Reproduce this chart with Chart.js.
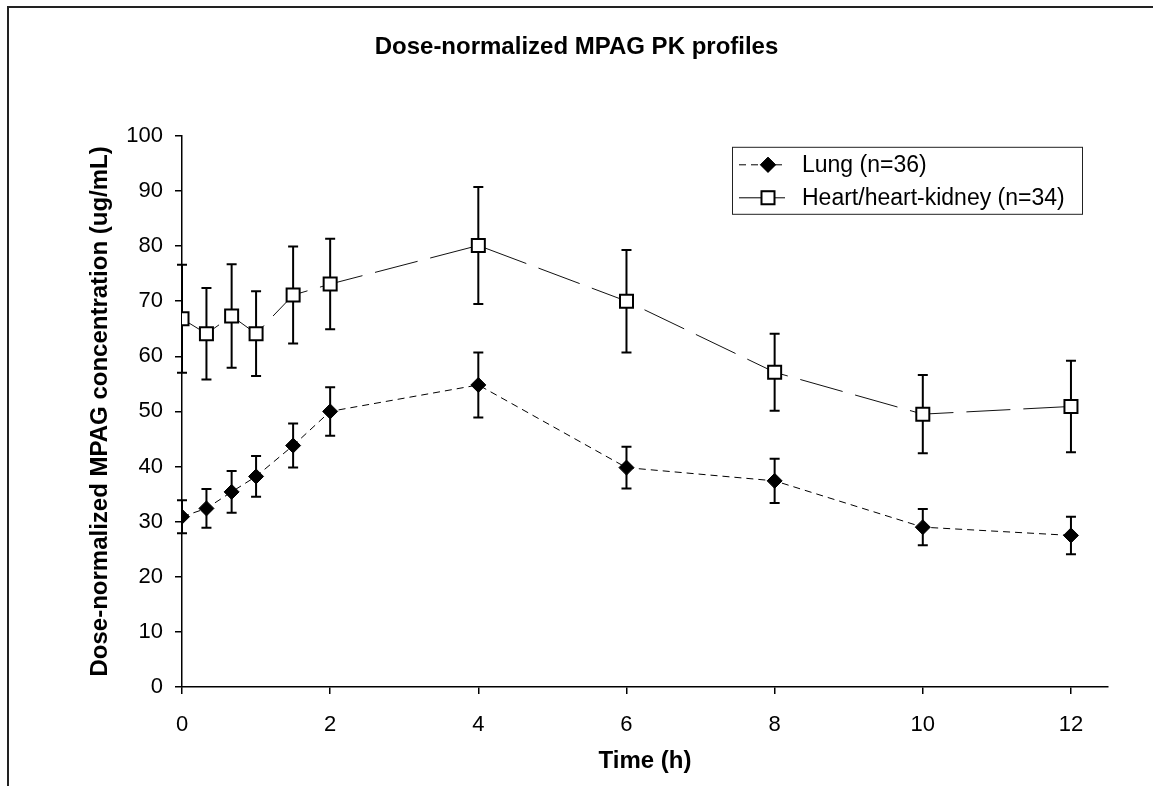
<!DOCTYPE html>
<html>
<head>
<meta charset="utf-8">
<script src="https://cdn.jsdelivr.net/npm/chart.js@4.4.1/dist/chart.umd.min.js"></script>
<style>
    html, body { margin: 0; padding: 0; background: #fff; }
    #wrap { position: relative; width: 1153px; height: 786px; overflow: hidden; }
    #frame { position: absolute; left: 7px; top: 6px; right: -10px; bottom: -10px; border-left: 2px solid #222; border-top: 2px solid #222; }
    canvas { position: absolute; left: 0; top: 0; }
</style>
</head>
<body>
<div id="wrap">
    <div id="frame"></div>
    <canvas id="pk" width="1153" height="786"></canvas>
</div>
<script>
const times = [0, 0.33, 0.67, 1, 1.5, 2, 4, 6, 8, 10, 12];
const xTicks = [0, 2, 4, 6, 8, 10, 12];

const lungMean = [30.9, 32.4, 35.4, 38.2, 43.8, 50.0, 54.8, 39.8, 37.4, 29.0, 27.5];
const lungSd = [3.0, 3.5, 3.8, 3.7, 4.0, 4.4, 5.9, 3.8, 4.0, 3.3, 3.4];

const heartMean = [66.8, 64.1, 67.3, 64.1, 71.1, 73.1, 80.1, 70.0, 57.1, 49.5, 50.9];
const heartSd = [9.8, 8.3, 9.4, 7.7, 8.8, 8.2, 10.6, 9.3, 7.0, 7.1, 8.3];

const labels = ['Lung (n=36)', 'Heart/heart-kidney (n=34)'];
const errors = [lungSd, heartSd];

Chart.defaults.font.family = '"Liberation Sans", Arial, sans-serif';
Chart.defaults.color = '#000';

const toXY = (ys) => times.map((t, i) => ({ x: t, y: ys[i] }));

// error bars (mean ± SD), drawn under the markers
const errorBars = {
    id: 'errorBars',
    beforeDatasetsDraw(chart) {
        const { ctx, scales: { x, y } } = chart;
        ctx.save();
        ctx.strokeStyle = '#000';
        ctx.lineWidth = 2;
        chart.data.datasets.forEach((ds, di) => {
            ds.data.forEach((p, i) => {
                const px = x.getPixelForValue(p.x);
                const top = y.getPixelForValue(p.y + errors[di][i]);
                const bot = y.getPixelForValue(p.y - errors[di][i]);
                ctx.beginPath();
                ctx.moveTo(px, top); ctx.lineTo(px, bot);
                ctx.moveTo(px - 5, top); ctx.lineTo(px + 5, top);
                ctx.moveTo(px - 5, bot); ctx.lineTo(px + 5, bot);
                ctx.stroke();
            });
        });
        ctx.restore();
    }
};

// boxed legend inside the plot, top right
const boxLegend = {
    id: 'boxLegend',
    afterDraw(chart) {
        const { ctx, chartArea } = chart;
        const left = chartArea.right - 376, top = chartArea.top + 11;
        const w = 350, h = 67;
        ctx.save();
        ctx.fillStyle = '#fff';
        ctx.fillRect(left, top, w, h);
        ctx.strokeStyle = '#222';
        ctx.lineWidth = 1;
        ctx.strokeRect(left + 0.5, top + 0.5, w, h);
        chart.data.datasets.forEach((ds, i) => {
            const cy = top + 18 + i * 33;
            ctx.strokeStyle = '#000';
            ctx.lineWidth = 1;
            ctx.setLineDash(i === 0 ? [7, 5] : []);
            ctx.beginPath();
            ctx.moveTo(left + 7, cy); ctx.lineTo(left + 53, cy);
            ctx.stroke();
            ctx.setLineDash([]);
            Chart.helpers.drawPoint(ctx, {
                pointStyle: ds.pointStyle, radius: ds.pointRadius,
                borderWidth: ds.pointBorderWidth, rotation: 0
            }, left + 36, cy);
            ctx.fillStyle = ds.pointBackgroundColor;
            ctx.strokeStyle = ds.pointBorderColor;
            ctx.lineWidth = ds.pointBorderWidth;
            ctx.fill();
            ctx.stroke();
            ctx.fillStyle = '#000';
            ctx.font = '23px "Liberation Sans", Arial, sans-serif';
            ctx.textBaseline = 'middle';
            ctx.fillText(ds.label, left + 70, cy + 1);
        });
        ctx.restore();
    }
};

new Chart(document.getElementById('pk'), {
    type: 'line',
    data: {
        datasets: [
            {
                label: labels[0], data: toXY(lungMean),
                borderColor: '#000', borderWidth: 1, borderDash: [7, 5],
                pointStyle: 'rectRot', pointRadius: 7.5, pointBorderWidth: 1,
                pointBackgroundColor: '#000', pointBorderColor: '#000'
            },
            {
                label: labels[1], data: toXY(heartMean),
                borderColor: '#111', borderWidth: 1, borderDash: [44, 13],
                pointStyle: 'rect', pointRadius: 9.2, pointBorderWidth: 2,
                pointBackgroundColor: '#fff', pointBorderColor: '#000'
            }
        ]
    },
    options: {
        responsive: false, animation: false,
        layout: { padding: { left: 45, right: 45, top: 0, bottom: 0 } },
        plugins: {
            legend: { display: false }, tooltip: { enabled: false },
            title: {
                display: true, text: 'Dose-normalized MPAG PK profiles',
                font: { size: 24, weight: 'bold' }, color: '#000',
                padding: { top: 33, bottom: 74 }
            }
        },
        scales: {
            x: {
                type: 'linear', min: 0, max: 12.5,
                afterFit: s => { s.height = 99; },
                afterBuildTicks: s => { s.ticks = xTicks.map(v => ({ value: v })); },
                ticks: { font: { size: 22 }, padding: 18, color: '#000' },
                grid: { drawOnChartArea: false, color: '#000', tickLength: 7, lineWidth: 1.5 },
                border: { color: '#000', width: 1.5 },
                title: { display: true, text: 'Time (h)', font: { size: 24, weight: 'bold' }, color: '#000', padding: { top: 0, bottom: 10 } }
            },
            y: {
                min: 0, max: 100,
                afterFit: s => { s.width = 137; },
                ticks: { stepSize: 10, font: { size: 22 }, padding: 12, color: '#000' },
                grid: { drawOnChartArea: false, color: '#000', tickLength: 7, lineWidth: 1.5 },
                border: { color: '#000', width: 1.5 },
                title: { display: true, text: 'Dose-normalized MPAG concentration (ug/mL)', font: { size: 24, weight: 'bold' }, color: '#000', padding: { top: 41, bottom: 0 } }
            }
        }
    },
    plugins: [errorBars, boxLegend]
});
</script>
</body>
</html>
